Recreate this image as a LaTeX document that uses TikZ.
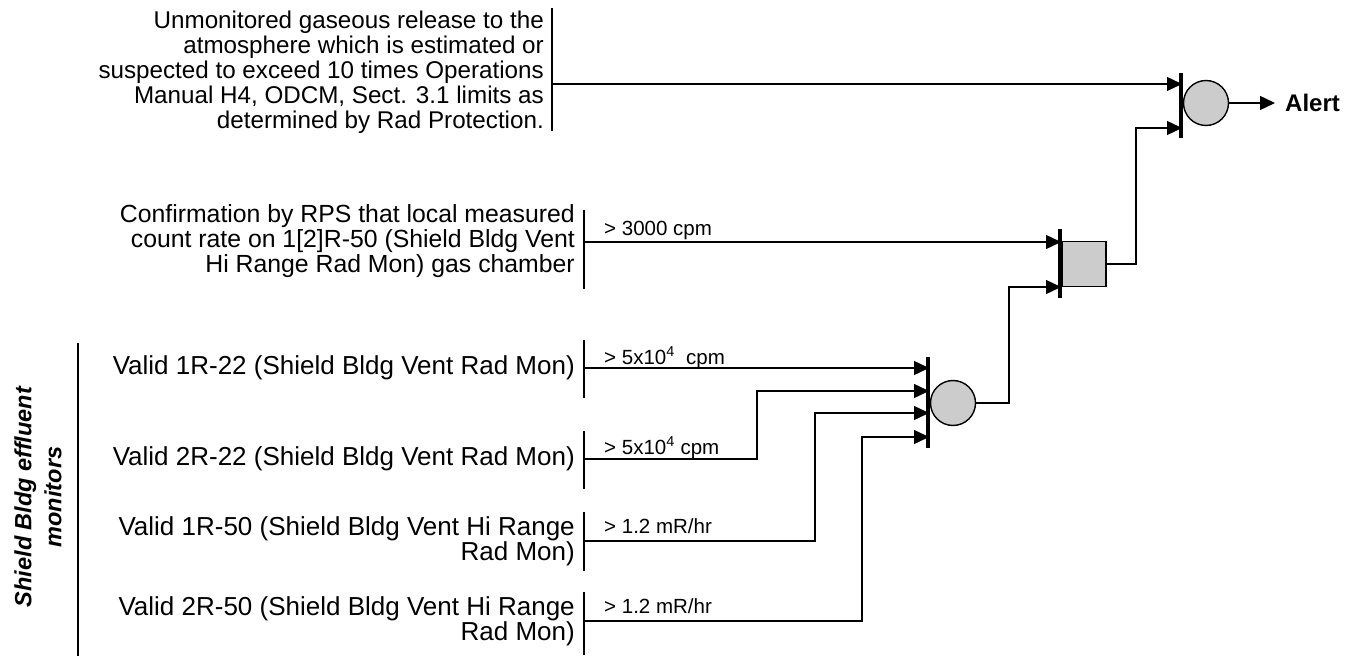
\documentclass[tikz,border=0pt]{standalone}
\usepackage{fontspec}
\setmainfont{Liberation Sans}
\usetikzlibrary{arrows.meta}
\tikzset{
  txt/.style={inner sep=0pt, align=right, anchor=east, font=\fontsize{24.2}{25}\selectfont},
  txtb/.style={txt, font=\fontsize{24.8}{25}\selectfont},
  txtc/.style={txt, font=\fontsize{26}{25}\selectfont},
  lbl/.style={inner sep=0pt, anchor=base west, font=\fontsize{20.5}{22}\selectfont},
  inbar/.style={line width=2.4pt},
  gatebar/.style={line width=4pt},
  wire/.style={line width=1.4pt},
  arr/.style={wire, -{Triangle[length=15pt,width=14pt]}, shorten >=-1pt},
  orgate/.style={circle, draw, line width=1.4pt, fill=black!20, minimum size=45pt, inner sep=0pt},
  andgate/.style={rectangle, draw, line width=1.4pt, fill=black!20, minimum width=44pt, minimum height=45pt, inner sep=0pt},
}
\begin{document}
\begin{tikzpicture}[x=1pt,y=-1pt]
\useasboundingbox (0,0) rectangle (1361,658);

% left group label
\node[inner sep=0pt, rotate=90, align=center, font=\fontsize{23.5}{30}\selectfont\bfseries\itshape] (grp) at (38,497) {Shield Bldg effluent\\monitors};
\draw[inbar] (78,343) -- (78,656);

% input texts
\node[txt] (t1) at (544,72) {Unmonitored gaseous release to the\\atmosphere which is estimated or\\suspected to exceed 10 times Operations\\Manual H4, ODCM, Sect. 3.1 limits as\\determined by Rad Protection.};
\node[txtb] (t2) at (575,241) {Confirmation by RPS that local measured\\count rate on 1[2]R-50 (Shield Bldg Vent\\Hi Range Rad Mon) gas chamber};
\node[txtc] (t3) at (575,368) {Valid 1R-22 (Shield Bldg Vent Rad Mon)};
\node[txtc] (t4) at (575,459) {Valid 2R-22 (Shield Bldg Vent Rad Mon)};
\node[txtc] (t5) at (575,541) {Valid 1R-50 (Shield Bldg Vent Hi Range\\Rad Mon)};
\node[txtc] (t6) at (575,621) {Valid 2R-50 (Shield Bldg Vent Hi Range\\Rad Mon)};

% input bars
\draw[inbar] (552,8) -- (552,131);
\draw[inbar] (584,210) -- (584,289);
\draw[inbar] (584,340) -- (584,398);
\draw[inbar] (584,431) -- (584,489);
\draw[inbar] (584,512) -- (584,571);
\draw[inbar] (584,592) -- (584,655);
\coordinate (s1) at (552,84);
\coordinate (s2) at (584,242);
\coordinate (s3) at (584,368);
\coordinate (s4) at (584,459);
\coordinate (s5) at (584,541);
\coordinate (s6) at (584,621);

% setpoint labels
\node[lbl] (l2) at (604,236) {> 3000 cpm};
\node[lbl] (l3) at (604,364) {> 5x10\textsuperscript{4}\ \ cpm};
\node[lbl] (l4) at (604,454) {> 5x10\textsuperscript{4} cpm};
\node[lbl] (l5) at (604,533) {> 1.2 mR/hr};
\node[lbl] (l6) at (604,613) {> 1.2 mR/hr};

% gates
\node[orgate] (g3) at (953,403) {};
\draw[gatebar] (928,357) -- (928,448);
\node[andgate] (g2) at (1084,264) {};
\draw[gatebar] (1060,229) -- (1060,298);
\node[orgate] (g1) at (1206,103) {};
\draw[gatebar] (1181,73) -- (1181,138);

\coordinate (g3a) at (928,368);
\coordinate (g3b) at (928,391);
\coordinate (g3c) at (928,413);
\coordinate (g3d) at (928,437);
\coordinate (g2a) at (1060,242);
\coordinate (g2b) at (1060,287);
\coordinate (g1a) at (1181,84);
\coordinate (g1b) at (1181,128);

% connectors
\draw[arr] (s1) -- (g1a);
\draw[arr] (s2) -- (g2a);
\draw[arr] (s3) -- (g3a);
\draw[arr] (s4) -| (757,391) -- (g3b);
\draw[arr] (s5) -| (815,413) -- (g3c);
\draw[arr] (s6) -| (862,437) -- (g3d);
\draw[arr] (g3.east) -| (1009,287) -- (g2b);
\draw[arr] (g2.east) -| (1136,128) -- (g1b);

\node[inner sep=0pt, anchor=west, font=\fontsize{24}{26}\selectfont\bfseries] (alert) at (1285,103) {Alert};
\draw[arr, shorten >=10pt] (g1.east) -- (alert.west);
\end{tikzpicture}
\end{document}
